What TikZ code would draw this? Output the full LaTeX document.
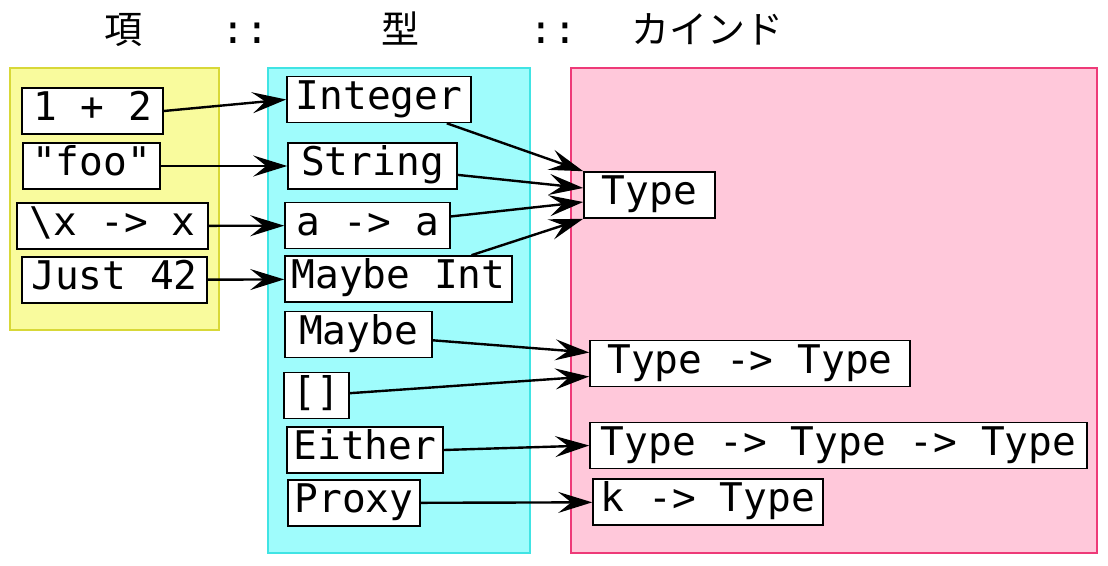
\documentclass[tikz,border=0pt]{standalone}
\usepackage{fontspec}
\setmonofont{DejaVu Sans Mono}
\newfontfamily\jp{Noto Sans CJK JP}
\usetikzlibrary{arrows.meta,calc}
\definecolor{yfill}{HTML}{F9FB9D}
\definecolor{ydraw}{HTML}{D8D838}
\definecolor{cfill}{HTML}{9FFCFC}
\definecolor{cdraw}{HTML}{40E4E4}
\definecolor{pfill}{HTML}{FFC8DA}
\definecolor{pdraw}{HTML}{EE3A78}
\begin{document}
\begin{tikzpicture}[x=1pt,y=-1pt,
  bx/.style={draw, line width=1.6pt, fill=white, font=\fontsize{39.5}{40}\selectfont\ttfamily,
    minimum height=46pt, inner ysep=3.5pt, inner xsep=0pt, text height=29pt, text depth=10pt,
    minimum width=#1},
  hd/.style={anchor=base, font=\fontsize{38}{40}\selectfont\jp},
  hdc/.style={anchor=base, font=\fontsize{39.5}{40}\selectfont\ttfamily},
  arr/.style={-{Stealth[length=34pt,width=21pt,inset=13pt]}, line width=2.4pt},
  col/.style={line width=1.2pt}]
\useasboundingbox (0,0) rectangle (1108,565);
% headers
\node[hd] (h1) at (123,43) {項};
\node[hdc] (c1) at (245,43) {::};
\node[hd] (h2) at (400,43) {型};
\node[hdc] (c2) at (553,43) {::};
\node[hd] (h3) at (707,43) {カインド};
% columns
\draw[col, draw=ydraw, fill=yfill] (10,68) rectangle (219,330);
\draw[col, draw=cdraw, fill=cfill] (268,68) rectangle (530,553);
\draw[col, draw=pdraw, fill=pfill] (571,68) rectangle (1097,553);
% terms
\node[bx=141pt] (n1) at (92.5,111) {1 + 2};
\node[bx=137pt] (n2) at (91.5,166) {"foo"};
\node[bx=191pt] (n3) at (112.5,226) {\textbackslash x -> x};
\node[bx=185pt] (n4) at (114.5,280) {Just 42};
% types
\node[bx=184pt] (tInteger) at (379,99.5) {Integer};
\node[bx=169pt] (tString) at (372.5,166) {String};
\node[bx=165pt] (tAA) at (367.5,225.5) {a -> a};
\node[bx=227pt] (tMaybeInt) at (398.5,279) {Maybe Int};
\node[bx=147pt] (tMaybe) at (358.5,334.5) {Maybe};
\node[bx=65pt] (tList) at (316.5,395.5) {[]};
\node[bx=156pt] (tEither) at (365,450) {Either};
\node[bx=132pt] (tProxy) at (354,503) {Proxy};
% kinds
\node[bx=131pt] (kType) at (649.5,195) {Type};
\node[bx=320pt] (kTT) at (750,363.5) {Type -> Type};
\node[bx=497pt] (kTTT) at (838.5,445.5) {Type -> Type -> Type};
\node[bx=230pt] (kK) at (708,502) {k -> Type};
% arrows
\draw[arr] (n1.east) -- (tInteger.west);
\draw[arr] (n2) -- (tString);
\draw[arr] (n3) -- (tAA);
\draw[arr] (n4) -- (tMaybeInt);
\draw[arr] (tInteger) -- (kType.north west);
\draw[arr] (tString) -- ([yshift=7pt]kType.west);
\draw[arr] (tAA) -- ([yshift=-7pt]kType.west);
\draw[arr] (tMaybeInt) -- (kType.south west);
\draw[arr] (tMaybe) -- ([yshift=11pt]kTT.west);
\draw[arr] (tList) -- ([yshift=-13pt]kTT.west);
\draw[arr] (tEither.east) -- (kTTT.west);
\draw[arr] (tProxy) -- (kK);
\end{tikzpicture}
\end{document}
